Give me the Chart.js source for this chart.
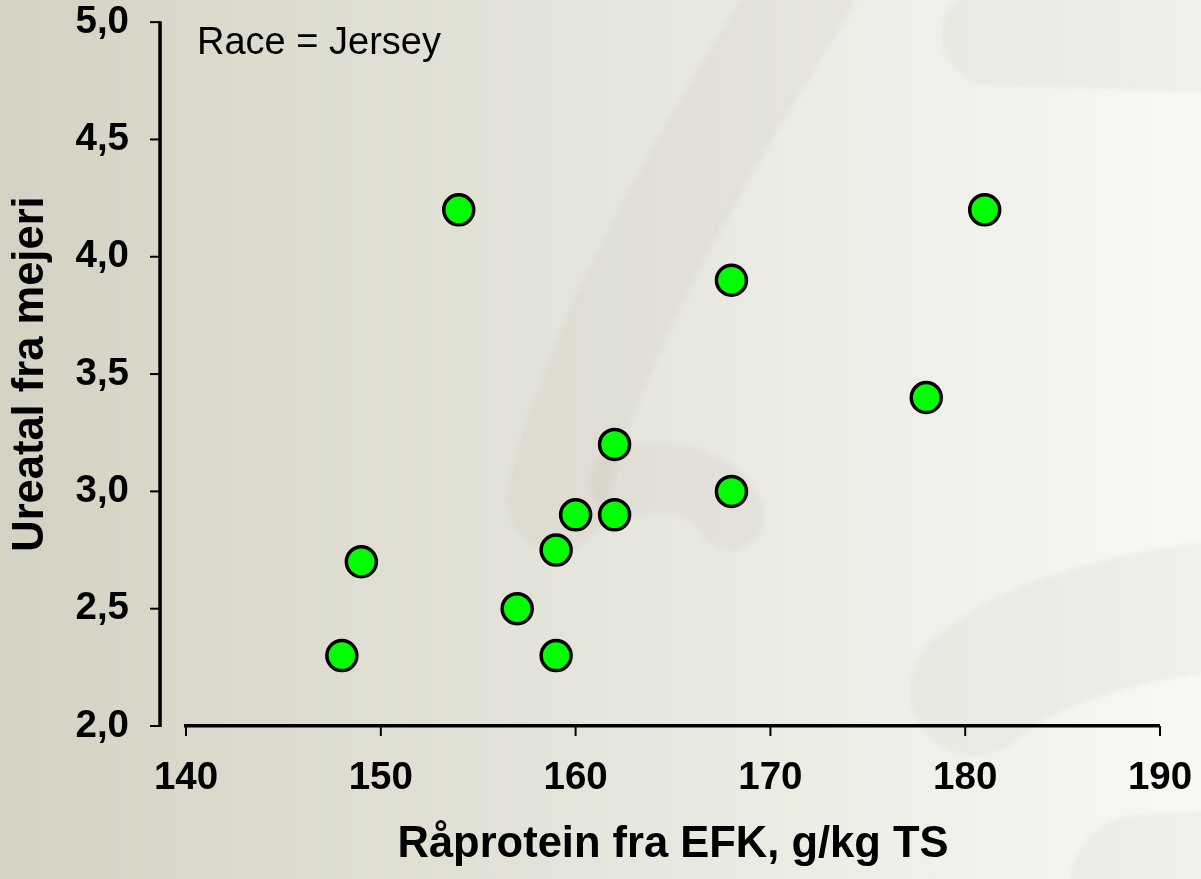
<!DOCTYPE html>
<html>
<head>
<meta charset="utf-8">
<script src="https://cdn.jsdelivr.net/npm/chart.js@4/dist/chart.umd.min.js"></script>
<style>
  html, body { margin: 0; padding: 0; background: #e6e5dc; }
  #wrap { width: 1201px; height: 879px; position: relative; }
</style>
</head>
<body>
<div id="wrap"><canvas id="c" width="1201" height="879"></canvas></div>
<script>
// ---- data ----
const rawProtein = [148, 149, 154, 157, 159, 159, 160, 162, 162, 168, 168, 178, 181];
const ureaNumber = [2.3, 2.7, 4.2, 2.5, 2.3, 2.75, 2.9, 2.9, 3.2, 3.9, 3.0, 3.4, 4.2];
const xTicks = [140, 150, 160, 170, 180, 190];
const yTicks = [2.0, 2.5, 3.0, 3.5, 4.0, 4.5, 5.0];
const xTitle = 'Råprotein fra EFK, g/kg TS';
const yTitle = 'Ureatal fra mejeri';
const noteText = 'Race = Jersey';

const FONT = '"Liberation Sans", Arial, Helvetica, sans-serif';
const points = rawProtein.map((x, i) => ({ x: x, y: ureaNumber[i] }));

const backgroundPlugin = {
  id: 'bg',
  beforeDraw(chart) {
    const ctx = chart.ctx, w = chart.width, h = chart.height;
    ctx.save();
    const g = ctx.createLinearGradient(0, 0, w, 0);
    g.addColorStop(0, '#d4d2c2');
    g.addColorStop(0.5, '#e6e5dc');
    g.addColorStop(1, '#f8f8f5');
    ctx.fillStyle = g;
    ctx.fillRect(0, 0, w, h);
    // faint decorative swooshes
    ctx.filter = 'blur(2px)';
    ctx.strokeStyle = 'rgba(150,140,115,0.075)';
    ctx.lineCap = 'round';
    ctx.lineJoin = 'round';
    ctx.lineWidth = 100;
    ctx.beginPath();
    ctx.moveTo(805, -10);
    ctx.quadraticCurveTo(590, 330, 557, 500);
    ctx.stroke();
    ctx.lineWidth = 70;
    ctx.beginPath();
    ctx.moveTo(625, 482);
    ctx.quadraticCurveTo(705, 468, 730, 515);
    ctx.stroke();
    ctx.lineWidth = 100;
    ctx.beginPath();
    ctx.moveTo(992, 35);
    ctx.lineTo(1260, 45);
    ctx.stroke();
    ctx.lineWidth = 130;
    ctx.beginPath();
    ctx.moveTo(1270, 600);
    ctx.quadraticCurveTo(1050, 620, 975, 690);
    ctx.stroke();
    ctx.lineWidth = 140;
    ctx.beginPath();
    ctx.moveTo(1140, 885);
    ctx.lineTo(1290, 875);
    ctx.stroke();
    ctx.restore();
  }
};

const axisPlugin = {
  id: 'axisMarks',
  afterDraw(chart) {
    const ctx = chart.ctx, ys = chart.scales.y, xs = chart.scales.x;
    const xLine = chart.chartArea.left - 26;
    const yBase = chart.chartArea.bottom;
    ctx.save();
    ctx.strokeStyle = '#000';
    ctx.lineWidth = 3.5;
    ctx.beginPath();
    ctx.moveTo(xLine, ys.getPixelForValue(yTicks[yTicks.length - 1]) - 1);
    ctx.lineTo(xLine, ys.getPixelForValue(yTicks[0]) + 1);
    ctx.stroke();
    ctx.lineWidth = 2;
    yTicks.forEach(v => {
      const py = ys.getPixelForValue(v);
      ctx.beginPath();
      ctx.moveTo(xLine - 10, py);
      ctx.lineTo(xLine, py);
      ctx.stroke();
    });
    xTicks.forEach(v => {
      const px = xs.getPixelForValue(v);
      ctx.beginPath();
      ctx.moveTo(px, yBase);
      ctx.lineTo(px, yBase + 10);
      ctx.stroke();
    });
    // note text
    ctx.fillStyle = '#000';
    ctx.font = '38px ' + FONT;
    ctx.textBaseline = 'alphabetic';
    ctx.textAlign = 'left';
    ctx.fillText(noteText, chart.chartArea.left + 11, chart.chartArea.top + 32);
    ctx.restore();
  }
};

new Chart(document.getElementById('c'), {
  type: 'scatter',
  data: {
    datasets: [{
      data: points,
      backgroundColor: '#00ff00',
      borderColor: '#000000',
      borderWidth: 3.5,
      pointRadius: 15,
      pointHoverRadius: 15
    }]
  },
  options: {
    responsive: false,
    animation: false,
    events: [],
    layout: { padding: { left: 0, right: 41, top: 0, bottom: 0 } },
    plugins: { legend: { display: false }, tooltip: { enabled: false } },
    scales: {
      x: {
        type: 'linear',
        min: xTicks[0],
        max: xTicks[xTicks.length - 1],
        afterBuildTicks: (s) => { s.ticks = xTicks.map(v => ({ value: v })); },
        border: { display: true, color: '#000', width: 3.5 },
        grid: { display: true, drawOnChartArea: false, drawTicks: true, tickLength: 32.75, tickWidth: 0, tickColor: 'rgba(0,0,0,0)', color: 'rgba(0,0,0,0)', lineWidth: 0 },
        ticks: {
          color: '#000',
          font: { family: FONT, size: 38.5, weight: 'bold', lineHeight: 1.0 },
          padding: 0,
          maxRotation: 0,
          autoSkip: false,
          callback: (v) => String(v)
        },
        title: {
          display: true,
          text: xTitle,
          color: '#000',
          font: { family: FONT, size: 43.5, weight: 'bold', lineHeight: 1.0 },
          padding: { top: 26, bottom: 12.25 }
        }
      },
      y: {
        type: 'linear',
        min: yTicks[0],
        max: yTicks[yTicks.length - 1],
        afterBuildTicks: (s) => { s.ticks = yTicks.map(v => ({ value: v })); },
        border: { display: false },
        grid: { display: true, drawOnChartArea: false, drawTicks: true, tickLength: 57, tickWidth: 0, tickColor: 'rgba(0,0,0,0)', color: 'rgba(0,0,0,0)', lineWidth: 0 },
        ticks: {
          color: '#000',
          font: { family: FONT, size: 38.5, weight: 'bold', lineHeight: 1.15 },
          padding: 0,
          autoSkip: false,
          callback: (v) => Number(v).toFixed(1).replace('.', ',')
        },
        title: {
          display: true,
          text: yTitle,
          color: '#000',
          font: { family: FONT, size: 43.5, weight: 'bold', lineHeight: 1.2 },
          padding: { top: 4.9, bottom: 18.4 }
        }
      }
    }
  },
  plugins: [backgroundPlugin, axisPlugin]
});
</script>
</body>
</html>
